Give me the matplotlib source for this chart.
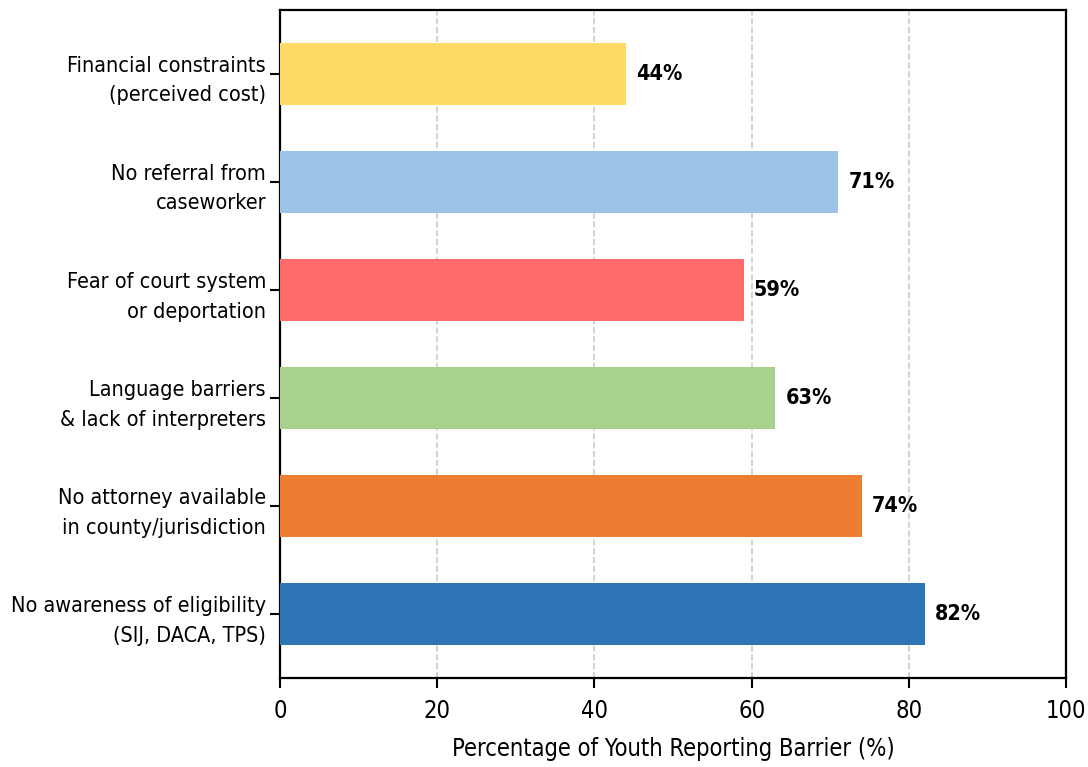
import matplotlib
matplotlib.use("Agg")
import matplotlib.pyplot as plt
from matplotlib import font_manager as fm

# pick the condensed DejaVu files explicitly
cond = None
cond_bold = None
for f in fm.fontManager.ttflist:
    low = f.fname.lower()
    if low.endswith('dejavusanscondensed.ttf'):
        cond = f.fname
    elif low.endswith('dejavusanscondensed-bold.ttf'):
        cond_bold = f.fname

if cond:
    reg = fm.FontProperties(fname=cond)
else:
    reg = fm.FontProperties(family='DejaVu Sans', stretch='condensed')
if cond_bold:
    bold = fm.FontProperties(fname=cond_bold)
else:
    bold = fm.FontProperties(family='DejaVu Sans', stretch='condensed', weight='bold')

barriers = [
    "No awareness of eligibility\n(SIJ, DACA, TPS)",
    "No attorney available\nin county/jurisdiction",
    "Language barriers\n& lack of interpreters",
    "Fear of court system\nor deportation",
    "No referral from\ncaseworker",
    "Financial constraints\n(perceived cost)",
]
percent = [82, 74, 63, 59, 71, 44]
colors = ["#2E75B6", "#ED7D31", "#A9D18E", "#FF6B6B", "#9DC3E6", "#FFD966"]

fig = plt.figure(figsize=(10.88, 7.67), dpi=100)
ax = fig.add_axes([280 / 1088, 1 - 678 / 767, 786 / 1088, 668 / 767])

bars = ax.barh(range(len(barriers)), percent, height=0.575, color=colors, zorder=3)
for b, v in zip(bars, percent):
    ax.text(b.get_width() + 1.3, b.get_y() + b.get_height() / 2, f"{v}%",
            va='center', ha='left', fontproperties=bold, fontsize=15.5)

ax.set_yticks(range(len(barriers)))
ax.set_yticklabels(barriers, fontproperties=reg, fontsize=15.5, linespacing=1.6)
ax.set_xlim(0, 100)
ax.set_ylim(-0.59, 5.59)
ax.set_xticks([0, 20, 40, 60, 80, 100])
ax.set_xticklabels(["0", "20", "40", "60", "80", "100"], fontproperties=reg, fontsize=17)
ax.tick_params(axis='x', width=1.5, length=7, pad=8)
ax.tick_params(axis='y', width=1.5, length=7, pad=3)
ax.set_xlabel("Percentage of Youth Reporting Barrier (%)", fontproperties=reg,
              fontsize=17, labelpad=10)
ax.grid(axis='x', linestyle='--', color='#cccccc', linewidth=1.2, zorder=0)
for s in ax.spines.values():
    s.set_linewidth(1.6)

fig.savefig("out.png", dpi=100)
